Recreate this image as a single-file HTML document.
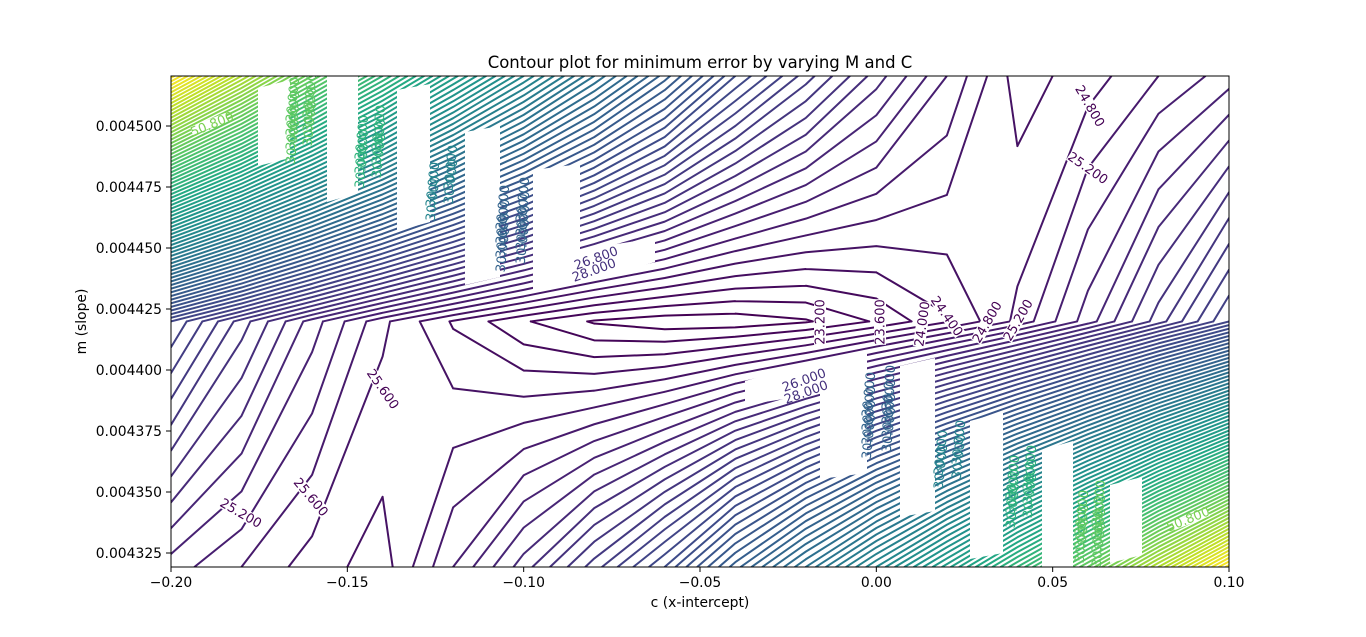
<!DOCTYPE html>
<html>
<head>
<meta charset="utf-8">
<style>
  html,body{margin:0;padding:0;background:#fff;}
  svg{display:block;font-family:"DejaVu Sans","Liberation Sans",sans-serif;}
</style>
</head>
<body>
<svg id="chart" width="1366" height="637" viewBox="0 0 1366 637">
  <defs>
    <clipPath id="plotclip"><rect x="171" y="76" width="1058" height="491"/></clipPath>
  </defs>
  <rect x="0" y="0" width="1366" height="637" fill="#fff"/>
  <text x="700" y="68" text-anchor="middle" font-size="16.5" fill="#000">Contour plot for minimum error by varying M and C</text>
  <g id="plot" clip-path="url(#plotclip)">
    <g id="contours"></g>
    <g id="gaps"></g>
    <g id="labels"></g>
  </g>
  <rect x="171" y="76" width="1058" height="491" fill="none" stroke="#000" stroke-width="1"/>
  <g id="xaxis"></g>
  <g id="yaxis"></g>
  <text x="700" y="607" text-anchor="middle" font-size="13.9" fill="#000">c (x-intercept)</text>
  <text x="86" y="321.5" text-anchor="middle" font-size="13.9" fill="#000" transform="rotate(-90 86 321.5)">m (slope)</text>
</svg>
<script>
// ---- data ----
const cValues = [-0.20,-0.18,-0.16,-0.14,-0.12,-0.10,-0.08,-0.06,-0.04,-0.02,0.00,0.02,0.04,0.06,0.08,0.10];
const mValues = [0.0045205, 0.0044199, 0.0043193];
const errTopRow = [57.0,52.8,48.8,45.2,41.8,38.8,36.0,33.4,30.8,29.0,27.4,26.0,24.6,25.0,25.6,26.2];
const errMidRow = [30.0,28.2,26.6,25.3,24.35,23.65,23.15,22.95,22.95,23.15,23.65,24.35,25.3,26.6,28.2,30.0];
const errBotRow = [26.2,25.6,25.0,24.6,26.0,27.4,29.0,30.8,33.4,36.0,38.8,41.8,45.2,48.8,52.8,57.0];
const levelStart = 23.2, levelStep = 0.4, levelCount = 85;
const xTicks = [-0.20,-0.15,-0.10,-0.05,0.00,0.05,0.10];
const xTickLabels = ["\u22120.20","\u22120.15","\u22120.10","\u22120.05","0.00","0.05","0.10"];
const yTicks = [0.004500,0.004475,0.004450,0.004425,0.004400,0.004375,0.004350,0.004325];
const yTickLabels = ["0.004500","0.004475","0.004450","0.004425","0.004400","0.004375","0.004350","0.004325"];

// ---- scales ----
const X0=171, X1=1229;
function xScale(c){ return X0 + (c - (-0.2)) / 0.3 * (X1 - X0); }
function yScale(m){ return 126 + (0.0045 - m) / 0.000025 * 61; }

const NS = "http://www.w3.org/2000/svg";
const viridisStops = ["#440154","#482475","#414487","#355f8d","#2a788e","#21918c","#22a884","#44bf70","#7ad151","#bddf26","#fde725"];
function hex2rgb(h){return [parseInt(h.substr(1,2),16),parseInt(h.substr(3,2),16),parseInt(h.substr(5,2),16)];}
function viridis(t){
  t=Math.max(0,Math.min(1,t));
  const p=t*10, i=Math.min(9,Math.floor(p)), f=p-i;
  const a=hex2rgb(viridisStops[i]), b=hex2rgb(viridisStops[i+1]);
  return "rgb("+a.map((v,k)=>Math.round(v+(b[k]-v)*f)).join(",")+")";
}

const grid = [errTopRow, errMidRow, errBotRow];
const levels = [];
for (let i=0;i<levelCount;i++) levels.push(+(levelStart + i*levelStep).toFixed(2));
const lmin = levels[0], lmax = levels[levels.length-1];

const cont = document.getElementById("contours");
function cross(x1,y1,v1,x2,y2,v2,L){const t=(L-v1)/(v2-v1);return [x1+t*(x2-x1),y1+t*(y2-y1)];}
levels.forEach(function(L){
  let d="";
  for(let r=0;r<grid.length-1;r++){
    for(let k=0;k<cValues.length-1;k++){
      const xa=xScale(cValues[k]), xb=xScale(cValues[k+1]);
      const ya=yScale(mValues[r]), yb=yScale(mValues[r+1]);
      const a=grid[r][k], b=grid[r][k+1], c=grid[r+1][k+1], e=grid[r+1][k];
      const pts={};
      if((a<L)!==(b<L)) pts.top=cross(xa,ya,a,xb,ya,b,L);
      if((b<L)!==(c<L)) pts.right=cross(xb,ya,b,xb,yb,c,L);
      if((e<L)!==(c<L)) pts.bottom=cross(xa,yb,e,xb,yb,c,L);
      if((a<L)!==(e<L)) pts.left=cross(xa,ya,a,xa,yb,e,L);
      const keys=Object.keys(pts);
      let segs=[];
      if(keys.length===2) segs=[[pts[keys[0]],pts[keys[1]]]];
      else if(keys.length===4){
        const center=(a+b+c+e)/4;
        if((center<L)===(a<L)) segs=[[pts.top,pts.right],[pts.bottom,pts.left]];
        else segs=[[pts.top,pts.left],[pts.right,pts.bottom]];
      }
      segs.forEach(s=>{d+="M"+s[0][0].toFixed(2)+" "+s[0][1].toFixed(2)+"L"+s[1][0].toFixed(2)+" "+s[1][1].toFixed(2);});
    }
  }
  if(d){
    const p=document.createElementNS(NS,"path");
    p.setAttribute("d",d);
    p.setAttribute("fill","none");
    p.setAttribute("stroke",viridis((L-lmin)/(lmax-lmin)));
    p.setAttribute("stroke-width","2");
    p.setAttribute("stroke-linecap","round");
    
    
    cont.appendChild(p);
  }
});

// ---- label gaps (top-left set, mirrored to bottom-right) ----
const gapPolys = [
  [[190,127],[225,113],[228,121],[193,135]],
  [[258,88],[290,80],[290,158],[258,166]],
  [[327,76],[358,76],[358,193],[327,202]],
  [[397,90],[430,84],[430,222],[397,231]],
  [[465,132],[500,126],[500,277],[465,285]],
  [[533,170],[580,164],[580,282],[533,291]],
  [[578,250],[655,238],[655,262],[578,284]]
];
const gapsG=document.getElementById("gaps");
function addPoly(pts){
  const p=document.createElementNS(NS,"polygon");
  p.setAttribute("points",pts.map(q=>q.join(",")).join(" "));
  p.setAttribute("fill","#fff");
  
  
  gapsG.appendChild(p);
}
gapPolys.forEach(g=>{ addPoly(g); addPoly(g.map(q=>[1400-q[0],643-q[1]])); });

// ---- labels ----
const labG=document.getElementById("labels");
function addLabel(txt,x,y,rot,col,bg){
  if(bg){
    const w=txt.length*7.6, h=12;
    const r=document.createElementNS(NS,"rect");
    r.setAttribute("x",x-w/2); r.setAttribute("y",y-h/2);
    r.setAttribute("width",w); r.setAttribute("height",h);
    r.setAttribute("fill","#fff");
    r.setAttribute("transform","rotate("+rot+" "+x+" "+y+")");
    
    
    labG.appendChild(r);
  }
  const t=document.createElementNS(NS,"text");
  t.setAttribute("x",x); t.setAttribute("y",y+4.5);
  t.setAttribute("text-anchor","middle");
  t.setAttribute("font-size","13");
  t.setAttribute("fill",col);
  t.setAttribute("transform","rotate("+rot+" "+x+" "+y+")");
  t.textContent=txt;
  
  
  labG.appendChild(t);
}
const purple="#440154";
addLabel("23.200",820,322,-90,purple,true);
addLabel("23.600",880,322,-90,purple,true);
addLabel("24.000",922,324,-82,purple,true);
addLabel("24.400",947,316,55,purple,true);
addLabel("24.800",987,322,-60,purple,true);
addLabel("25.200",1018,320,-60,purple,true);
addLabel("24.800",1090,106,60,purple,true);
addLabel("25.200",1088,168,35,purple,true);
addLabel("25.600",383,389,55,purple,true);
addLabel("25.200",241,513,30,purple,true);
addLabel("25.600",311,497,50,purple,true);
addLabel("50.800",212,124,-22,"#7ad151",false);
addLabel("50.800",1188,519,-22,"#7ad151",false);
addLabel("26.800",596,258,-20,"#46327e",false);
addLabel("28.000",594,270,-20,"#46327e",false);
addLabel("26.000",804,380,-20,"#46327e",false);
addLabel("28.000",806,392,-20,"#46327e",false);

// stacked label clusters (top-left set + mirrored)
const clusters = [
  {x:297,y0:80,y1:160,col:"#5ec962"},{x:314,y0:76,y1:150,col:"#5ec962"},
  {x:366,y0:118,y1:195,col:"#2fb47c"},{x:383,y0:108,y1:185,col:"#2fb47c"},
  {x:437,y0:165,y1:220,col:"#25858e"},{x:455,y0:148,y1:210,col:"#25858e"},
  {x:507,y0:188,y1:275,col:"#33638d"},{x:527,y0:180,y1:268,col:"#33638d"}
];
clusters.forEach(cl=>{
  [cl, {x:1400-cl.x, y0:643-cl.y1, y1:643-cl.y0, col:cl.col}].forEach(c=>{
    for(let y=c.y0+20;y<=c.y1-18;y+=14){
      const t=document.createElementNS(NS,"text");
      t.setAttribute("x",c.x); t.setAttribute("y",y);
      t.setAttribute("text-anchor","middle");
      t.setAttribute("font-size","13");
      t.setAttribute("fill",c.col);
      t.setAttribute("transform","rotate(-84 "+c.x+" "+y+")");
      t.textContent="30.000";
      
      
      labG.appendChild(t);
    }
  });
});

// ---- axes ----
const xa=document.getElementById("xaxis");
xTicks.forEach((v,i)=>{
  const x=xScale(v);
  const l=document.createElementNS(NS,"line");
  l.setAttribute("x1",x);l.setAttribute("x2",x);l.setAttribute("y1",567);l.setAttribute("y2",572);
  l.setAttribute("stroke","#000");
  
  
  xa.appendChild(l);
  const t=document.createElementNS(NS,"text");
  t.setAttribute("x",x);t.setAttribute("y",587);t.setAttribute("text-anchor","middle");
  t.setAttribute("font-size","13.9");
  t.textContent=xTickLabels[i];
  
  
  xa.appendChild(t);
});
const ya=document.getElementById("yaxis");
yTicks.forEach((v,i)=>{
  const y=yScale(v);
  const l=document.createElementNS(NS,"line");
  l.setAttribute("x1",166);l.setAttribute("x2",171);l.setAttribute("y1",y);l.setAttribute("y2",y);
  l.setAttribute("stroke","#000");
  
  
  ya.appendChild(l);
  const t=document.createElementNS(NS,"text");
  t.setAttribute("x",162);t.setAttribute("y",y+5);t.setAttribute("text-anchor","end");
  t.setAttribute("font-size","13.9");
  t.textContent=yTickLabels[i];
  
  
  ya.appendChild(t);
});
</script>
</body>
</html>
